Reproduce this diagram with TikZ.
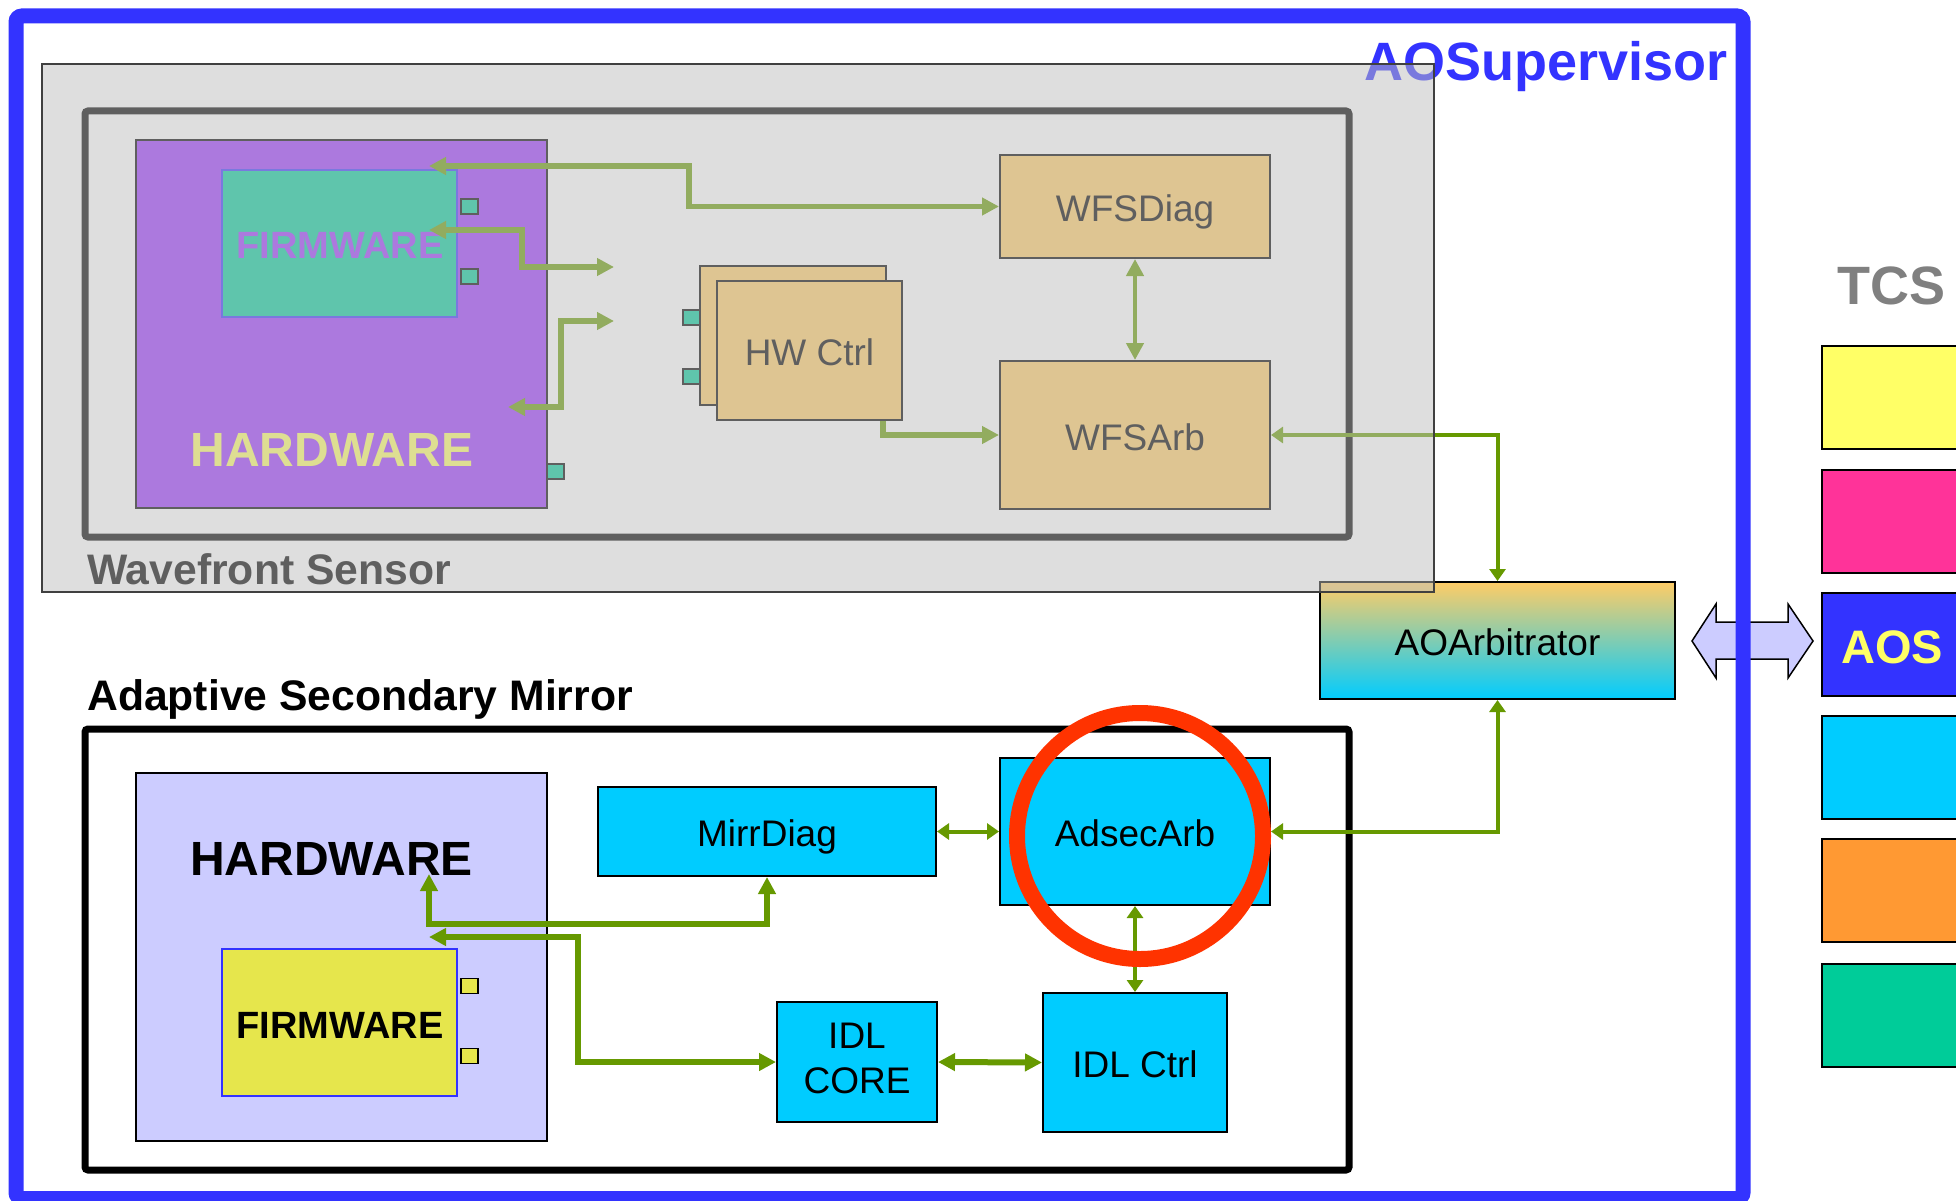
\documentclass[tikz,border=0pt]{standalone}
\usepackage{fontspec}
\setmainfont{Liberation Sans}
\usetikzlibrary{arrows.meta,shapes.geometric}
\definecolor{aoblue}{RGB}{51,51,255}
\definecolor{grn}{RGB}{102,153,0}
\definecolor{purp}{RGB}{153,51,255}
\definecolor{tealc}{RGB}{0,204,153}
\definecolor{tanc}{RGB}{255,204,102}
\definecolor{hwyel}{RGB}{255,255,102}
\definecolor{lav}{RGB}{204,204,255}
\definecolor{fwyel}{RGB}{230,230,76}
\definecolor{cyanc}{RGB}{0,204,255}
\definecolor{pinkc}{RGB}{255,51,153}
\definecolor{orngc}{RGB}{255,153,51}
\definecolor{redc}{RGB}{255,51,0}
\definecolor{veil}{RGB}{191,191,191}
\definecolor{tcsgray}{RGB}{128,128,128}
\newcommand{\myfs}[1]{\fontsize{#1}{#1}\selectfont}
\begin{document}
\begin{tikzpicture}[x=1pt,y=-1pt,
  box/.style={draw=black,line width=2pt,inner sep=0pt,font=\myfs{37},text height=30pt,text depth=0pt},
  pin/.style={draw=black,line width=1.5pt,inner sep=0pt,minimum width=17pt,minimum height=15pt},
  thick conn/.style={draw=grn,line width=5.5pt,>={Triangle[length=17pt,width=17pt]}},
  thin conn/.style={draw=grn,line width=4pt,>={Triangle[length=12pt,width=16pt]}},
  tcsbox/.style={draw=black,line width=2pt,minimum width=200pt,minimum height=103pt,inner sep=0pt},
  title/.style={font=\bfseries\myfs{42.7},inner sep=0pt},
  lbl/.style={anchor=base,inner sep=0pt}
]
\useasboundingbox (0,0) rectangle (1956,1201);
\clip (0,0) rectangle (1956,1201);
\fill[white] (0,0) rectangle (1956,1201);

% link arrow AOArbitrator <-> AOS
\filldraw[fill=lav,draw=black,line width=1.5pt,line join=miter]
  (1692,641) -- (1716,604) -- (1716,622) -- (1788,622) -- (1788,604) -- (1813,641)
  -- (1788,678) -- (1788,659) -- (1716,659) -- (1716,678) -- cycle;

% outer AOSupervisor frame
\draw[aoblue,line width=15pt,rounded corners=6pt] (16,16) rectangle (1743,1198.5);
\node[anchor=base east,text=aoblue,font=\bfseries\myfs{54},inner sep=0pt] (aosup) at (1728,81) {AOSupervisor};

% TCS column
\node[anchor=base west,text=tcsgray,font=\bfseries\myfs{54},inner sep=0pt] (tcs) at (1837,304) {TCS};
\node[tcsbox,fill=hwyel]  (t1) at (1922,397.5) {};
\node[tcsbox,fill=pinkc]  (t2) at (1922,521.5) {};
\node[tcsbox,fill=aoblue] (t3) at (1922,644.5) {};
\node[tcsbox,fill=cyanc]  (t4) at (1922,767.5) {};
\node[tcsbox,fill=orngc]  (t5) at (1922,890.5) {};
\node[tcsbox,fill=tealc]  (t6) at (1922,1015.5) {};
\node[anchor=base west,text=hwyel,font=\bfseries\myfs{47},inner sep=0pt] (aos) at (1841,663) {AOS};

% ===== Adaptive Secondary Mirror =====
\node[title,anchor=base west] (asmtitle) at (87,710) {Adaptive Secondary Mirror};
\draw[black,line width=7pt,rounded corners=3pt] (85,729) rectangle (1349,1170);
\node[draw=black,line width=1.5pt,fill=lav,minimum width=411pt,minimum height=368pt,inner sep=0pt] (hw2) at (341.5,957) {};
\node[lbl,font=\bfseries\myfs{48}] (hw2txt) at (331.5,875) {HARDWARE};
\node[draw=aoblue,line width=1.5pt,fill=fwyel,minimum width=235pt,minimum height=147pt,inner sep=0pt] (fw2) at (339.5,1022.5) {};
\node[lbl,font=\bfseries\myfs{38}] (fw2txt) at (340,1038) {FIRMWARE};
\node[pin,fill=fwyel] (p21) at (469.5,986) {};
\node[pin,fill=fwyel] (p22) at (469.5,1056) {};
\node[box,fill=cyanc,minimum width=338pt,minimum height=89pt] (mirrdiag) at (767,831.5) {MirrDiag};
\node[box,fill=cyanc,minimum width=270pt,minimum height=147pt] (adsecarb) at (1135,831.5) {AdsecArb};
\node[box,fill=cyanc,minimum width=160pt,minimum height=120pt] (idlcore) at (857,1062) {};
\node[lbl,font=\myfs{37}] (idl1) at (idlcore.center |- 0,1048) {IDL};
\node[lbl,font=\myfs{37}] (idl2) at (idlcore.center |- 0,1093) {CORE};
\node[box,fill=cyanc,minimum width=184pt,minimum height=139pt] (idlctrl) at (1135,1062.5) {IDL Ctrl};

\coordinate (hwtip) at (429,874);
\coordinate (hwtip2) at (429,937);
\draw[thick conn,<->] (hwtip) -- (429,924) -| (mirrdiag.south);
\draw[thick conn,<->] (hwtip2) -- (578,937) |- (idlcore.west);
\draw[thin conn,<->] (mirrdiag.east) -- (adsecarb.west);
\draw[thin conn,<->] (adsecarb.south) -- (idlctrl.north);
\draw[thick conn,line width=6pt,<->] (idlcore.east) -- (idlctrl.west);

% ===== AOArbitrator =====
\node[box,top color=tanc,bottom color=cyanc,minimum width=355pt,minimum height=117pt] (aoarb) at (1497.5,640.5) {AOArbitrator};
\draw[thin conn,<->] (aoarb.south) |- (adsecarb.east);

% ===== Wavefront Sensor (drawn in full colour, then veiled) =====
\draw[black,line width=7pt,rounded corners=3pt] (85,111) rectangle (1349,537);
\node[title,anchor=base west] (wfstitle) at (87,584) {Wavefront Sensor};
\node[draw=black,line width=1.5pt,fill=purp,minimum width=411pt,minimum height=368pt,inner sep=0pt] (hw1) at (341.5,324) {};
\node[draw=aoblue,line width=1.5pt,fill=tealc,minimum width=235pt,minimum height=147pt,inner sep=0pt] (fw1) at (339.5,243.5) {};
\node[lbl,text=purp,font=\bfseries\myfs{38}] (fw1txt) at (340,258) {FIRMWARE};
\node[lbl,text=hwyel,font=\bfseries\myfs{48}] (hw1txt) at (332,466) {HARDWARE};
\node[pin,fill=tealc] (p11) at (469.5,206.5) {};
\node[pin,fill=tealc] (p12) at (469.5,276.5) {};
\node[pin,fill=tealc] (p13) at (555.5,471.5) {};
\node[box,fill=tanc,minimum width=186pt,minimum height=139pt] (hwback) at (793,335.5) {};
\node[pin,fill=tealc] (p14) at (691.5,317.5) {};
\node[pin,fill=tealc] (p15) at (691.5,376.5) {};
\node[box,fill=tanc,minimum width=185pt,minimum height=139pt] (hwctrl) at (809.5,350.5) {HW Ctrl};
\node[box,fill=tanc,minimum width=270pt,minimum height=103pt] (wfsdiag) at (1135,206.5) {WFSDiag};
\node[box,fill=tanc,minimum width=270pt,minimum height=148pt] (wfsarb) at (1135,435) {WFSArb};

\coordinate (a1) at (429,166);
\coordinate (a2) at (429,230);
\coordinate (a2e) at (614,267);
\coordinate (a3) at (508,407);
\coordinate (a3e) at (614,321);
\draw[thick conn,<->] (a1) -- (689,166) |- (wfsdiag.west);
\draw[thick conn,<->] (a2) -- (522,230) |- (a2e);
\draw[thick conn,<->] (a3) -- (561,407) |- (a3e);
\draw[thick conn,->] ([xshift=-20pt]hwctrl.south east) |- (wfsarb.west);
\draw[thick conn,line width=4.5pt,<->] (wfsdiag.south) -- (wfsarb.north);
\draw[thin conn,<->] (wfsarb.east) -| (aoarb.north);

% grey veil of the Wavefront Sensor panel
\fill[veil,fill opacity=0.5] (42,64) rectangle (1434,592);
\draw[black!75,line width=1.2pt] (42,64) rectangle (1434,592);

% red highlight ring
\node[circle,draw=redc,line width=16pt,minimum size=246pt,inner sep=0pt] (ring) at (1140,836) {};
\end{tikzpicture}
\end{document}
